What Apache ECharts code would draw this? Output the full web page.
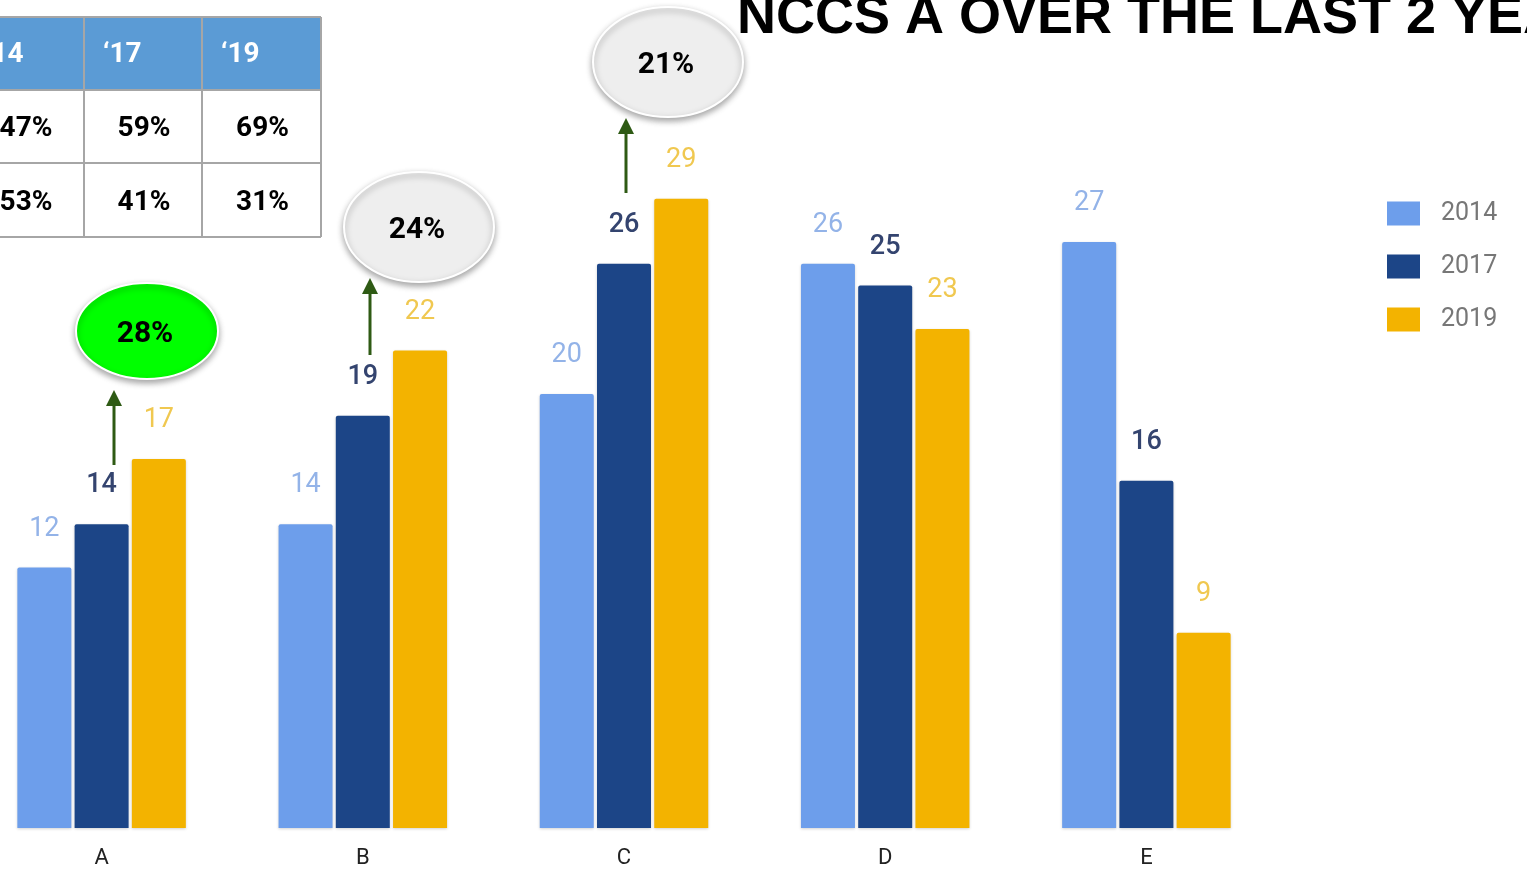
<!DOCTYPE html>
<html>
<head>
<meta charset="utf-8">
<script src="https://cdn.jsdelivr.net/npm/echarts@6/dist/echarts.min.js"></script>
<style>
html,body{margin:0;padding:0;background:#fff;overflow:hidden;width:1527px;height:877px;}
#main{position:absolute;left:-29px;top:0;width:1556px;height:877px;}
</style>
</head>
<body>
<div id="main"></div>
<script>
const categories = ['A', 'B', 'C', 'D', 'E'];
const seriesNames = ['2014', '2017', '2019'];
const values2014 = [12, 14, 20, 26, 27];
const values2017 = [14, 19, 26, 25, 16];
const values2019 = [17, 22, 29, 23, 9];
const tableHeader = ['\u201814', '\u201817', '\u201819'];
const tableRow1 = ['47%', '59%', '69%'];
const tableRow2 = ['53%', '41%', '31%'];
const growthLabels = ['28%', '24%', '21%'];
const titleText = 'NCCS A OVER THE LAST 2 YEARS';

const barColors = ['#6d9eeb', '#1c4587', '#f3b300'];
const labelColors = ['#93b3e8', '#34446f', '#f0c850'];
const OX = 29; // horizontal offset of the canvas (it starts 29px left of the page)

const chart = echarts.init(document.getElementById('main'));

function makeSeries(name, data, i) {
  return {
    name: name,
    type: 'bar',
    data: data,
    barWidth: 54,
    barGap: '6%',
    itemStyle: {
      color: barColors[i],
      borderRadius: [2, 2, 0, 0],
      shadowColor: 'rgba(0,0,0,0.18)',
      shadowBlur: 3,
      shadowOffsetY: 1
    },
    label: {
      show: true,
      position: 'top',
      distance: 25,
      color: labelColors[i],
      fontFamily: 'Roboto',
      fontSize: 27,
      fontWeight: i === 1 ? 500 : 'normal'
    }
  };
}

const graphics = [];
// table
const colX = [-34, 84, 202, 321].map(v => v + OX);
const rowY = [17, 90, 163, 237];
graphics.push({type: 'rect', shape: {x: colX[0], y: 17, width: 355, height: 73}, style: {fill: '#5b9bd5'}});
for (let r = 0; r < 4; r++) {
  graphics.push({type: 'line', shape: {x1: colX[0], y1: rowY[r], x2: colX[3], y2: rowY[r]}, style: {stroke: '#a6a6a6', lineWidth: 2}});
}
for (let c = 0; c < 4; c++) {
  graphics.push({type: 'line', shape: {x1: colX[c], y1: 17, x2: colX[c], y2: 237}, style: {stroke: '#a6a6a6', lineWidth: 2}});
}
for (let c = 0; c < 3; c++) {
  graphics.push({type: 'text', x: colX[c] + 19, y: 55, style: {text: tableHeader[c], fill: '#fff', font: 'bold 28px Roboto', textAlign: 'left', textVerticalAlign: 'middle'}});
  graphics.push({type: 'text', x: (colX[c] + colX[c + 1]) / 2 + 1, y: 129, style: {text: tableRow1[c], fill: '#000', font: 'bold 28px Roboto', textAlign: 'center', textVerticalAlign: 'middle'}});
  graphics.push({type: 'text', x: (colX[c] + colX[c + 1]) / 2 + 1, y: 203, style: {text: tableRow2[c], fill: '#000', font: 'bold 28px Roboto', textAlign: 'center', textVerticalAlign: 'middle'}});
}
// ellipses
const ell = [
  {cx: 147, cy: 331, rx: 71, ry: 48, fill: '#00ff00'},
  {cx: 419, cy: 227, rx: 75, ry: 55, fill: '#eeeeee'},
  {cx: 668, cy: 62, rx: 75, ry: 55, fill: '#eeeeee'}
];
ell.forEach((e, i) => {
  graphics.push({type: 'ellipse', shape: {cx: e.cx + OX, cy: e.cy, rx: e.rx, ry: e.ry},
    style: {fill: e.fill, stroke: '#ffffff', lineWidth: 2, shadowColor: 'rgba(0,0,0,0.35)', shadowBlur: 6, shadowOffsetY: 3}});
  graphics.push({type: 'text', x: e.cx - 2 + OX, y: e.cy + 3, style: {text: growthLabels[i], fill: '#000', font: 'bold 30px Roboto', textAlign: 'center', textVerticalAlign: 'middle'}});
});
// arrows
const arrows = [
  {x: 114, y1: 465, y2: 390},
  {x: 370, y1: 355, y2: 278},
  {x: 626, y1: 193, y2: 118}
];
arrows.forEach(a => {
  const x = a.x + OX;
  graphics.push({type: 'line', shape: {x1: x, y1: a.y1, x2: x, y2: a.y2 + 12}, style: {stroke: '#2e5a14', lineWidth: 3}});
  graphics.push({type: 'polygon', shape: {points: [[x, a.y2], [x - 8, a.y2 + 16], [x + 8, a.y2 + 16]]}, style: {fill: '#2e5a14'}});
});
// title
graphics.push({type: 'text', x: 737 + OX, y: 18, style: {text: titleText, fill: '#000', font: 'bold 54px "Liberation Sans"', textAlign: 'left', textVerticalAlign: 'middle'}});

chart.setOption({
  animation: false,
  backgroundColor: '#ffffff',
  grid: {left: 0, top: 177, width: 1306, bottom: 49, containLabel: false},
  legend: {
    orient: 'vertical',
    left: 1382 + OX,
    top: 196,
    itemWidth: 33,
    itemHeight: 24,
    itemGap: 28,
    icon: 'rect',
    textStyle: {color: '#777', fontSize: 25, fontFamily: 'Roboto', padding: [0, 0, 0, 16]},
    data: seriesNames
  },
  xAxis: {
    type: 'category',
    data: categories,
    axisLine: {show: false},
    axisTick: {show: false},
    axisLabel: {color: '#222', fontSize: 22, fontFamily: 'Roboto', margin: 19}
  },
  yAxis: {
    type: 'value',
    min: 0,
    max: 30,
    show: false,
    splitLine: {show: false}
  },
  series: [
    makeSeries(seriesNames[0], values2014, 0),
    makeSeries(seriesNames[1], values2017, 1),
    makeSeries(seriesNames[2], values2019, 2)
  ],
  graphic: graphics
});
</script>
</body>
</html>
